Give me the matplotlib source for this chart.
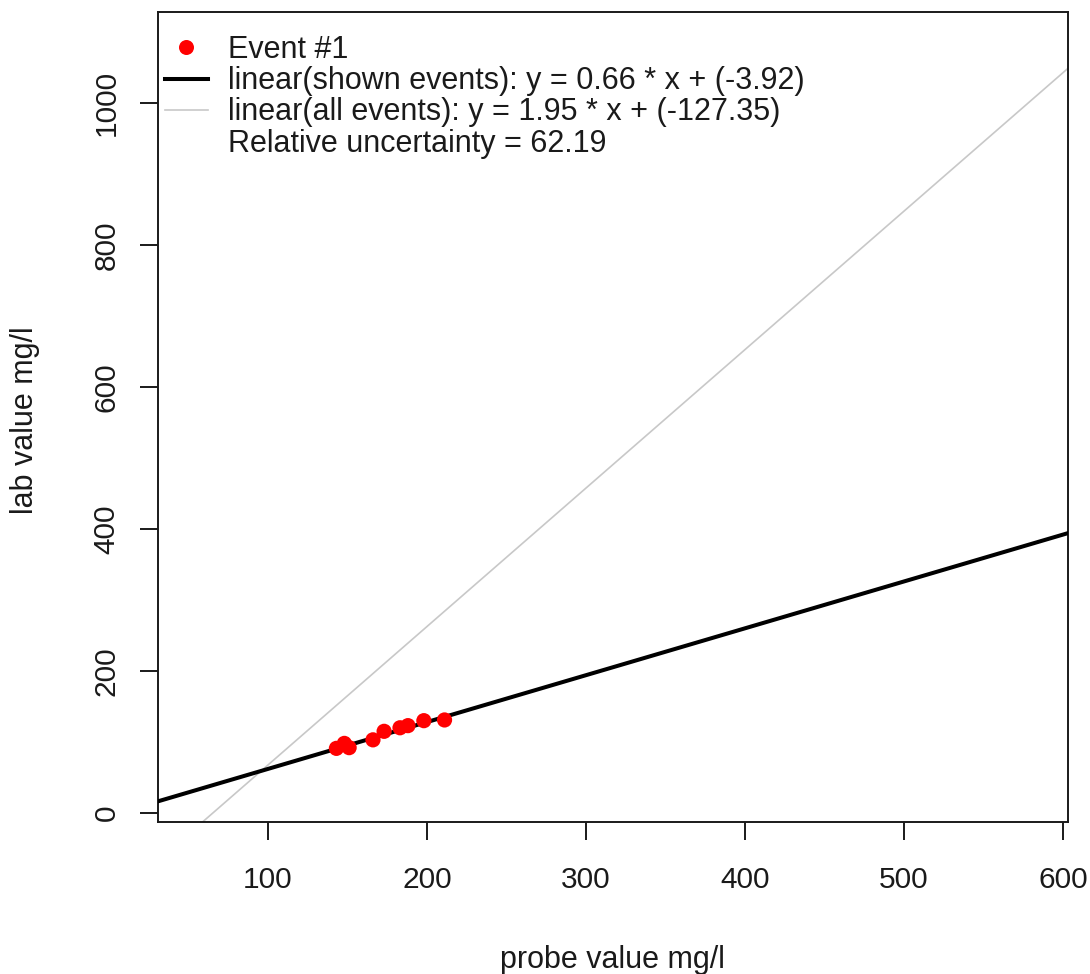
import matplotlib
matplotlib.use("Agg")
import matplotlib.pyplot as plt
import numpy as np
from matplotlib.lines import Line2D

plt.rcParams['font.family'] = ['Liberation Sans', 'DejaVu Sans']

probe = [143, 148, 151, 166, 173, 183, 188, 198, 211]
lab = [91, 98, 92, 103, 115, 120, 123, 130, 131]

shown_slope, shown_icpt = 0.66, -3.92
all_slope, all_icpt = 1.95, -127.35

xticks = [100, 200, 300, 400, 500, 600]
yticks = [0, 200, 400, 600, 800, 1000]

W, H = 1090, 974
fig = plt.figure(figsize=(W/100, H/100), dpi=100)
ax = fig.add_axes([158/W, 1-822/H, (1068-158)/W, (822-12)/H])
xlim = (30.8, 603.1)
ylim = (-12.7, 1128)
ax.set_xlim(*xlim)
ax.set_ylim(*ylim)

xs = np.array(xlim)
l_all, = ax.plot(xs, all_slope*xs + all_icpt, color='#c8c8c8', lw=1.2, zorder=2)
l_shown, = ax.plot(xs, shown_slope*xs + shown_icpt, color='black', lw=2.9, zorder=3)
pts = ax.scatter(probe, lab, s=120, color='red', edgecolors='none', zorder=4)

ax.set_xticks(xticks)
ax.set_yticks(yticks)
ax.set_yticklabels([str(v) for v in yticks], rotation=90, va='center')
ax.tick_params(axis='both', labelsize=21.5, length=13, width=1.4, colors='#1a1a1a')
ax.tick_params(axis='x', pad=18.5)
ax.tick_params(axis='y', pad=14)
for sp in ax.spines.values():
    sp.set_linewidth(1.4)
    sp.set_color('#1a1a1a')

fig.text(612/W, 1-945/H, 'probe value mg/l', ha='center', va='top', fontsize=22, color='#1a1a1a')
fig.text(25/W, 1-420/H, 'lab value mg/l', ha='center', va='center', rotation=90, fontsize=22, color='#1a1a1a')

blank = Line2D([], [], color='none')
leg = fig.legend([Line2D([], [], marker='o', color='red', ls='none', markersize=10.8, markeredgewidth=0),
                  l_shown, l_all, blank],
                 ['Event #1',
                  'linear(shown events): y = 0.66 * x + (-3.92)',
                  'linear(all events): y = 1.95 * x + (-127.35)',
                  'Relative uncertainty = 62.19'],
                 loc='upper left', frameon=False, fontsize=22, handlelength=1.4,
                 handletextpad=0.65, labelspacing=0.04, borderpad=0, borderaxespad=0,
                 bbox_to_anchor=(165/W, 1-35/H), labelcolor='#1a1a1a')

fig.savefig('out.png', dpi=100)
